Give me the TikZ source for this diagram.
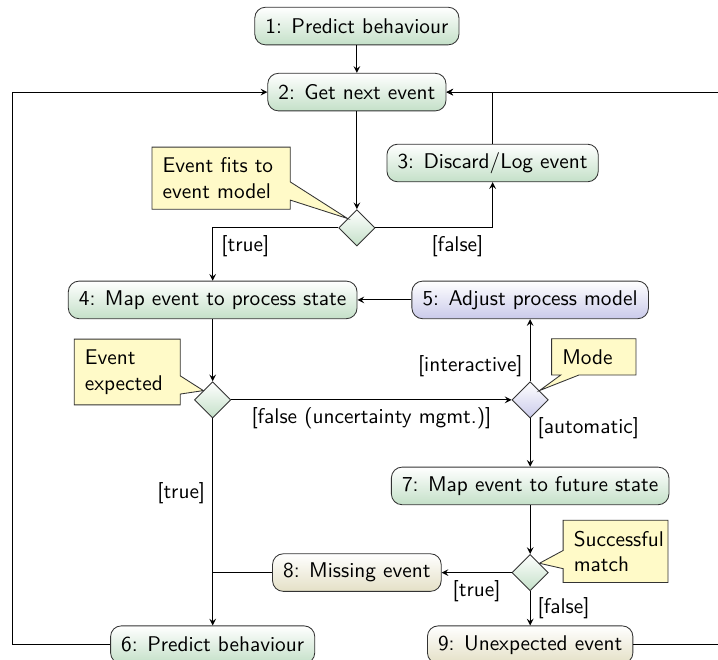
\documentclass[tikz,border=0pt]{standalone}
\usepackage{tikz}
\usetikzlibrary{shapes.geometric,shapes.callouts}

\definecolor{actgreen}{RGB}{196,224,200}
\definecolor{actblue}{RGB}{202,202,234}
\definecolor{actolive}{RGB}{228,224,198}
\definecolor{notefill}{RGB}{255,250,200}

\tikzset{
	action/.style={rectangle,rounded corners=5pt,draw=black!80,top color=white,bottom color=actgreen,
		minimum height=0.62cm,inner xsep=5pt,font=\sffamily},
	decision/.style={diamond,draw=black!80,top color=white,bottom color=actgreen,
		minimum width=0.6cm,minimum height=0.6cm,inner sep=0pt},
	note/.style={rectangle callout,draw=black!80,fill=notefill,font=\sffamily,align=left,
		inner sep=5pt,callout pointer width=0.3cm},
	guard/.style={font=\sffamily}
}

\begin{document}
\begin{tikzpicture}
					\useasboundingbox (0,0) rectangle (11.85,-10.89);

					% main column
					\node[action] (start) at (5.89,-0.43) {1: Predict behaviour};
					\node[action] (next) at (5.89,-1.52) {2: Get next event};
					\node[action] (discard) at (8.13,-2.69) {3: Discard/Log event};
					\node[decision] (fits) at (5.89,-3.76) {};
					\node[action] (mapproc) at (3.51,-4.95) {4: Map event to process state};
					\node[action,bottom color=actblue] (adjust) at (8.75,-4.95) {5: Adjust process model};
					\node[decision] (expected) at (3.51,-6.60) {};
					\node[decision,bottom color=actblue] (mode) at (8.75,-6.60) {};
					\node[action] (mapfut) at (8.75,-8.02) {7: Map event to future state};
					\node[decision] (match) at (8.75,-9.45) {};
					\node[action,bottom color=actolive] (missing) at (5.89,-9.45) {8: Missing event};
					\node[action] (predict) at (3.51,-10.64) {6: Predict behaviour};
					\node[action,bottom color=actolive] (unexp) at (8.75,-10.64) {9: Unexpected event};

					\coordinate (loopl) at (0.20,-10.64);
					\coordinate (loopr) at (11.85,-10.64);

					% notes
					\node[note,text width=1.93cm,callout absolute pointer={(fits.north west)}] (nfits) at (3.65,-2.94) {Event fits to event model};
					\node[note,text width=1.40cm,callout absolute pointer={(expected.north west)}] (nexp) at (2.10,-6.14) {Event\\expected};
					\node[note,text width=1.04cm,callout absolute pointer={(mode.north east)}] (nmode) at (9.80,-5.89) {Mode};
					\node[note,text width=1.38cm,callout absolute pointer={(match.north east)}] (nmatch) at (10.16,-9.10) {Successful match};

					% connectors
					\draw[-stealth] (start) -- (next);
					\draw[-stealth] (next) -- (fits);
					\draw[-stealth] (fits) -| node[guard,pos=0.37,below] {[true]} (mapproc);
					\draw[-stealth] (fits) -| node[guard,pos=0.35,below] {[false]} (discard);
					\draw[-stealth] (discard) |- (next);
					\draw[-stealth] (adjust) -- (mapproc);
					\draw[-stealth] (mapproc) -- (expected);
					\draw[-stealth] (expected) -- node[guard,below] {[false (uncertainty mgmt.)]} (mode);
					\draw[-stealth] (mode) -- node[guard,pos=0.25,left] {[interactive]} (adjust);
					\draw[-stealth] (mode) -- node[guard,pos=0.2,right] {[automatic]} (mapfut);
					\draw[-stealth] (expected) -- node[guard,pos=0.36,left] {[true]} (predict);
					\draw[-stealth] (mapfut) -- (match);
					\draw[-stealth] (match) -- node[guard,below] {[true]} (missing);
					\draw[-stealth] (match) -- node[guard,right] {[false]} (unexp);
					\draw (missing) -- (missing -| predict);

					% loops back to the event source
					\draw[-stealth] (predict) -- (loopl) |- (next);
					\draw[-stealth] (unexp) -- (loopr) |- (next);
				\end{tikzpicture}
\end{document}
